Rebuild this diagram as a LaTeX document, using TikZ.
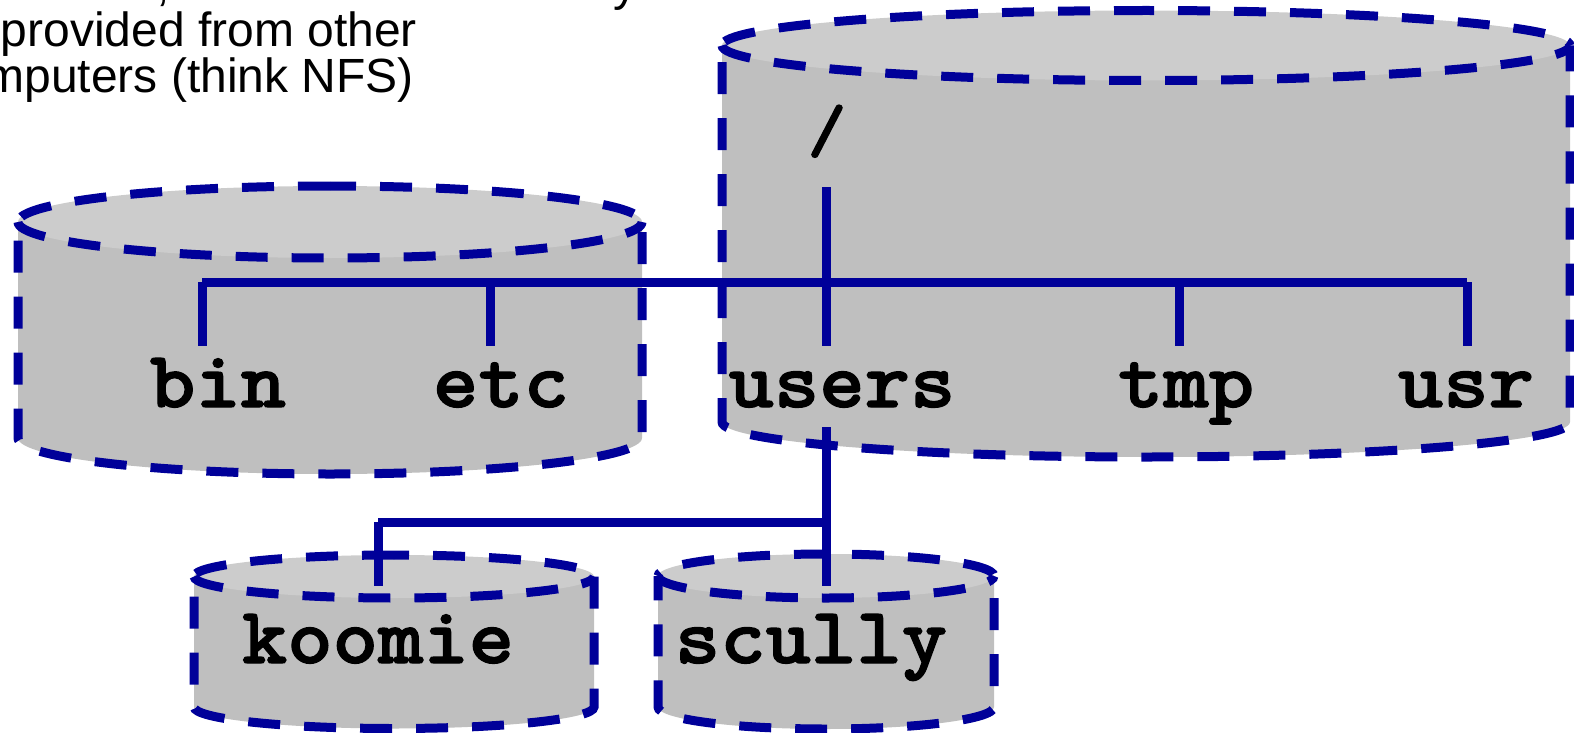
\documentclass[tikz,border=0pt]{standalone}
\usepackage{fontspec}
\setmainfont{Liberation Sans}
\newfontfamily\dirfont[FakeBold=1.6,FakeStretch=1.08]{lmmonolt10-bold.otf}
\definecolor{cylblue}{HTML}{000099}
\definecolor{cylbody}{HTML}{BFBFBF}
\definecolor{cyltop}{HTML}{CCCCCC}
\tikzset{
  cyledge/.style={draw=cylblue,line width=9pt,dash pattern=on 32pt off 24pt},
  treeline/.style={draw=cylblue,line width=9pt},
  dirlabel/.style={inner sep=0pt,outer sep=0pt,anchor=base,font=\fontsize{80}{80}\selectfont\dirfont},
  rootlabel/.style={inner sep=0pt,outer sep=0pt,anchor=base,font=\fontsize{68}{68}\selectfont\dirfont},
  note/.style={inner sep=0pt,outer sep=0pt,font=\fontsize{48}{48}\selectfont},
}
% left, right, top centre y, bottom centre y, y radius, side dash phase, upper-right dash phase
\newcommand{\cylinderdraw}[7]{%
  \pgfmathsetmacro{\cylcx}{(#1+#2)/2}%
  \pgfmathsetmacro{\cylrx}{(#2-#1)/2}%
  \pgfmathsetmacro{\cylkx}{\cylrx*0.5523}%
  \pgfmathsetmacro{\cylky}{#5*0.5523}%
  \fill[cylbody] (#2,#3) -- (#2,#4)
    .. controls ({#2},{#4+\cylky}) and ({\cylcx+\cylkx},{#4+#5}) .. ({\cylcx},{#4+#5})
    .. controls ({\cylcx-\cylkx},{#4+#5}) and ({#1},{#4+\cylky}) .. ({#1},{#4})
    -- (#1,#3) -- cycle;
  \fill[cyltop] (#1,#3)
    .. controls ({#1},{#3+\cylky}) and ({\cylcx-\cylkx},{#3+#5}) .. ({\cylcx},{#3+#5})
    .. controls ({\cylcx+\cylkx},{#3+#5}) and ({#2},{#3+\cylky}) .. ({#2},{#3})
    .. controls ({#2},{#3-\cylky}) and ({\cylcx+\cylkx},{#3-#5}) .. ({\cylcx},{#3-#5})
    .. controls ({\cylcx-\cylkx},{#3-#5}) and ({#1},{#3-\cylky}) .. ({#1},{#3}) -- cycle;
  \draw[cyledge,dash phase=#6] (#2,#3) -- (#2,#4)
    .. controls ({#2},{#4+\cylky}) and ({\cylcx+\cylkx},{#4+#5}) .. ({\cylcx},{#4+#5})
    .. controls ({\cylcx-\cylkx},{#4+#5}) and ({#1},{#4+\cylky}) .. ({#1},{#4})
    -- (#1,#3);
  \draw[cyledge] (#1,#3)
    .. controls ({#1},{#3+\cylky}) and ({\cylcx-\cylkx},{#3+#5}) .. ({\cylcx},{#3+#5})
    .. controls ({\cylcx+\cylkx},{#3+#5}) and ({#2},{#3+\cylky}) .. ({#2},{#3});
  \draw[cyledge] ({\cylcx},{#3-#5})
    .. controls ({\cylcx-\cylkx},{#3-#5}) and ({#1},{#3-\cylky}) .. ({#1},{#3});
  \draw[cyledge,dash phase=#7] ({\cylcx},{#3-#5})
    .. controls ({\cylcx+\cylkx},{#3-#5}) and ({#2},{#3-\cylky}) .. ({#2},{#3});
}
\begin{document}
\begin{tikzpicture}[x=1pt,y=-1pt]
\useasboundingbox (0,0) rectangle (1574,733);
% cylinders
\cylinderdraw{18}{642}{222}{438}{36}{46}{6}
\cylinderdraw{722}{1570}{45.5}{422}{35}{6}{24}
\cylinderdraw{194}{594}{576.5}{707}{21.5}{0}{17}
\cylinderdraw{658}{994}{576}{707}{22}{34}{30}
% tree coordinates
\coordinate (rootEnd) at (826,187);
\coordinate (binJoin) at (202,282);
\coordinate (etcJoin) at (490,282);
\coordinate (usersJoin) at (826,282);
\coordinate (tmpJoin) at (1179,282);
\coordinate (usrJoin) at (1467,282);
\coordinate (binEnd) at (202,346);
\coordinate (etcEnd) at (490,346);
\coordinate (usersEnd) at (826,346);
\coordinate (tmpEnd) at (1179,346);
\coordinate (usrEnd) at (1467,346);
\coordinate (usersOut) at (826,427);
\coordinate (mountJoin) at (826,522);
\coordinate (koomieJoin) at (378,522);
\coordinate (scullyEnd) at (826,586);
\coordinate (koomieEnd) at (378,586);
% tree
\draw[treeline] (binJoin) -- (usrJoin);
\draw[treeline] (rootEnd) -- (usersEnd);
\draw[treeline] (binJoin) -- (binEnd);
\draw[treeline] (etcJoin) -- (etcEnd);
\draw[treeline] (tmpJoin) -- (tmpEnd);
\draw[treeline] (usrJoin) -- (usrEnd);
\draw[treeline] (usersOut) -- (scullyEnd);
\draw[treeline] (koomieJoin) -- (mountJoin);
\draw[treeline] (koomieJoin) -- (koomieEnd);
% labels
\node[rootlabel] (root) at (827,152) {/};
\node[dirlabel] (bin) at (218,407) {bin};
\node[dirlabel] (etc) at (501,407) {etc};
\node[dirlabel] (users) at (842,407) {users};
\node[dirlabel] (tmp) at (1186,407) {tmp};
\node[dirlabel] (usr) at (1466,407) {usr};
\node[dirlabel] (koomie) at (378,663) {koomie};
\node[dirlabel] (scully) at (811,663) {scully};
% note
\node[note,anchor=base west] (cutcomma) at (156,1) {,};
\node[note,anchor=base west] (cuty) at (613,1) {y};
\node[note,anchor=base east] (line2) at (417,47) {provided from other};
\node[note,anchor=base east] (line3) at (414,93) {mputers (think NFS)};
\end{tikzpicture}
\end{document}
